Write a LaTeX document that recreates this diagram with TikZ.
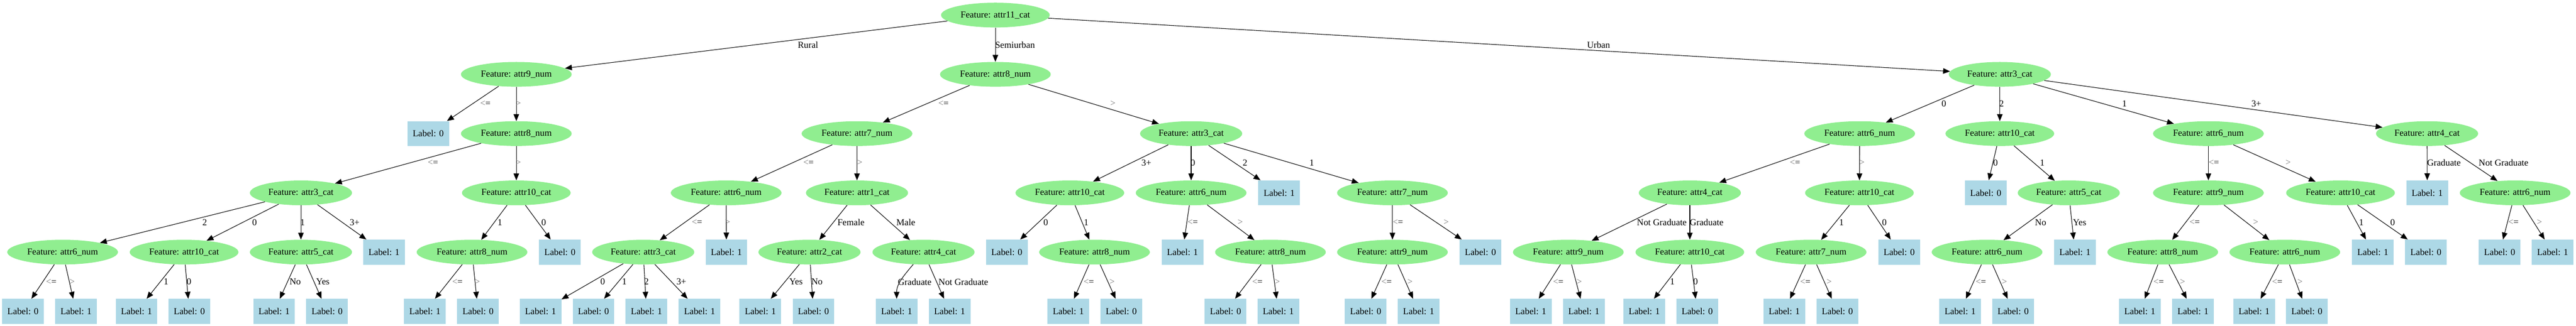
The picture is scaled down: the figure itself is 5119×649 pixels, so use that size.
\documentclass[tikz,border=0pt]{standalone}
\usepackage{fontspec}
\setmainfont{Liberation Serif}
\usetikzlibrary{arrows.meta,shapes.geometric}
\definecolor{lgreen}{RGB}{144,238,144}
\definecolor{lblue}{RGB}{173,216,230}
\newcommand\dtfont{\fontsize{13.2}{15}\selectfont}
\newcommand\myle{{\color{black!55}<}=}
\newcommand\mygt{{\color{black!55}>}}
\newcommand\dedge[5]{\draw[arr] (#1) -- (#2); \node[el] (#1-#2) at (#3,#4) {#5};}
\begin{document}
\begin{tikzpicture}[x=0.7246pt,y=-0.7246pt,
  every node/.style={font=\dtfont},
  fc/.style={ellipse,fill=lgreen,minimum width=147pt,minimum height=35.7pt,inner sep=0pt},
  fcc/.style={fc,minimum width=156.5pt},
  fn/.style={fc,minimum width=159.4pt},
  lf/.style={rectangle,fill=lblue,minimum width=60pt,minimum height=36pt,inner sep=0pt},
  arr/.style={-{Triangle[length=10pt,width=8pt]},line width=0.8pt},
  el/.style={inner sep=0pt}]
\useasboundingbox (0,0) rectangle (5119,649);
% level 0
\node[fcc] (R) at (1978,30) {Feature: attr11\_cat};
% level 1
\node[fn] (a) at (1026,148) {Feature: attr9\_num};
\node[fn] (b) at (1978,148) {Feature: attr8\_num};
\node[fc] (c) at (3974,148) {Feature: attr3\_cat};
% level 2
\node[lf] (a1) at (851,266) {Label: 0};
\node[fn] (a2) at (1026,266) {Feature: attr8\_num};
\node[fn] (b1) at (1703,266) {Feature: attr7\_num};
\node[fc] (b2) at (2367,266) {Feature: attr3\_cat};
\node[fn] (c1) at (3695.5,266) {Feature: attr6\_num};
\node[fcc] (c2) at (3974,266) {Feature: attr10\_cat};
\node[fn] (c3) at (4388.5,266) {Feature: attr6\_num};
\node[fc] (c4) at (4823,266) {Feature: attr4\_cat};
% level 3
\node[fc] (a21) at (598,384) {Feature: attr3\_cat};
\node[fcc] (a22) at (1026,384) {Feature: attr10\_cat};
\node[fn] (b11) at (1443,384) {Feature: attr6\_num};
\node[fc] (b12) at (1703,384) {Feature: attr1\_cat};
\node[fcc] (b21) at (2126,384) {Feature: attr10\_cat};
\node[fn] (b22) at (2367,384) {Feature: attr6\_num};
\node[lf] (b23) at (2542,384) {Label: 1};
\node[fn] (b24) at (2767,384) {Feature: attr7\_num};
\node[fc] (c11) at (3358,384) {Feature: attr4\_cat};
\node[fcc] (c12) at (3695,384) {Feature: attr10\_cat};
\node[lf] (c21) at (3946,384) {Label: 0};
\node[fc] (c22) at (4111,384) {Feature: attr5\_cat};
\node[fn] (c31) at (4388.5,384) {Feature: attr9\_num};
\node[fcc] (c32) at (4651,384) {Feature: attr10\_cat};
\node[lf] (c41) at (4823.4,384) {Label: 1};
\node[fn] (c42) at (4998,384) {Feature: attr6\_num};
% level 4
\node[fn] (a211) at (124.4,502) {Feature: attr6\_num};
\node[fcc] (a212) at (365.8,502) {Feature: attr10\_cat};
\node[fc] (a213) at (598,502) {Feature: attr5\_cat};
\node[lf] (a214) at (763.2,502) {Label: 1};
\node[fn] (a221) at (938,502) {Feature: attr8\_num};
\node[lf] (a222) at (1112.7,502) {Label: 0};
\node[fc] (b111) at (1278.2,502) {Feature: attr3\_cat};
\node[lf] (b112) at (1443.5,502) {Label: 1};
\node[fc] (b121) at (1608.6,502) {Feature: attr2\_cat};
\node[fc] (b122) at (1835.2,502) {Feature: attr4\_cat};
\node[lf] (b211) at (2000.7,502) {Label: 0};
\node[fn] (b212) at (2175,502) {Feature: attr8\_num};
\node[lf] (b221) at (2349.8,502) {Label: 1};
\node[fn] (b222) at (2524.6,502) {Feature: attr8\_num};
\node[fn] (b241) at (2767,502) {Feature: attr9\_num};
\node[lf] (b242) at (2941.9,502) {Label: 0};
\node[fn] (c111) at (3116.5,502) {Feature: attr9\_num};
\node[fcc] (c112) at (3358,502) {Feature: attr10\_cat};
\node[fn] (c121) at (3599,502) {Feature: attr7\_num};
\node[lf] (c122) at (3774,502) {Label: 0};
\node[fn] (c221) at (3948.6,502) {Feature: attr6\_num};
\node[lf] (c222) at (4123.4,502) {Label: 1};
\node[fn] (c311) at (4297.7,502) {Feature: attr8\_num};
\node[fn] (c312) at (4540.3,502) {Feature: attr6\_num};
\node[lf] (c321) at (4715.2,502) {Label: 1};
\node[lf] (c322) at (4820.7,502) {Label: 0};
\node[lf] (c421) at (4967.3,502) {Label: 0};
\node[lf] (c422) at (5072.5,502) {Label: 1};
% level 5
\node[lf] (a2111) at (45.7,620) {Label: 0};
\node[lf] (a2112) at (151.2,620) {Label: 1};
\node[lf] (a2121) at (271.3,620) {Label: 1};
\node[lf] (a2122) at (376.3,620) {Label: 0};
\node[lf] (a2131) at (544.7,620) {Label: 1};
\node[lf] (a2132) at (650,620) {Label: 0};
\node[lf] (a2211) at (844.5,620) {Label: 1};
\node[lf] (a2212) at (950,620) {Label: 0};
\node[lf] (b1111) at (1074.2,620) {Label: 1};
\node[lf] (b1112) at (1179.4,620) {Label: 0};
\node[lf] (b1113) at (1284.7,620) {Label: 1};
\node[lf] (b1114) at (1390.2,620) {Label: 1};
\node[lf] (b1211) at (1511,620) {Label: 1};
\node[lf] (b1212) at (1616.5,620) {Label: 0};
\node[lf] (b1221) at (1781.8,620) {Label: 1};
\node[lf] (b1222) at (1887,620) {Label: 1};
\node[lf] (b2121) at (2123,620) {Label: 1};
\node[lf] (b2122) at (2228.2,620) {Label: 0};
\node[lf] (b2221) at (2435.4,620) {Label: 0};
\node[lf] (b2222) at (2540.2,620) {Label: 1};
\node[lf] (b2411) at (2713.9,620) {Label: 0};
\node[lf] (b2412) at (2819.1,620) {Label: 1};
\node[lf] (c1111) at (3041.9,620) {Label: 1};
\node[lf] (c1112) at (3147.4,620) {Label: 1};
\node[lf] (c1121) at (3267.5,620) {Label: 1};
\node[lf] (c1122) at (3372.7,620) {Label: 0};
\node[lf] (c1211) at (3545.7,620) {Label: 1};
\node[lf] (c1212) at (3651.2,620) {Label: 0};
\node[lf] (c2211) at (3895.2,620) {Label: 1};
\node[lf] (c2212) at (4000.5,620) {Label: 0};
\node[lf] (c3111) at (4252.2,620) {Label: 1};
\node[lf] (c3112) at (4358,620) {Label: 1};
\node[lf] (c3121) at (4479.3,620) {Label: 1};
\node[lf] (c3122) at (4584.2,620) {Label: 0};
% edges level 0-1
\dedge{R}{a}{1605.7}{89}{Rural}
\dedge{R}{b}{2017}{89}{Semiurban}
\dedge{R}{c}{3176.6}{89}{Urban}
% edges level 1-2
\dedge{a}{a1}{964.6}{206}{\myle}
\dedge{a}{a2}{1030}{206}{\mygt}
\dedge{b}{b1}{1875}{206}{\myle}
\dedge{b}{b2}{2211.5}{206}{\mygt}
\dedge{c}{c1}{3862.7}{206}{0}
\dedge{c}{c2}{3977.5}{206}{2}
\dedge{c}{c3}{4221.6}{206}{1}
\dedge{c}{c4}{4483.7}{206}{3+}
% edges level 2-3
\dedge{a2}{a21}{860.3}{324}{\myle}
\dedge{a2}{a22}{1030}{324}{\mygt}
\dedge{b1}{b11}{1606.7}{324}{\myle}
\dedge{b1}{b12}{1708.6}{324}{\mygt}
\dedge{b2}{b21}{2278}{324}{3+}
\dedge{b2}{b22}{2370.3}{324}{0}
\dedge{b2}{b23}{2474}{324}{2}
\dedge{b2}{b24}{2606.7}{324}{1}
\dedge{c1}{c11}{3567}{324}{\myle}
\dedge{c1}{c12}{3700}{324}{\mygt}
\dedge{c2}{c21}{3965.5}{324}{0}
\dedge{c2}{c22}{4058.4}{324}{1}
\dedge{c3}{c31}{4399.3}{324}{\myle}
\dedge{c3}{c32}{4547}{324}{\mygt}
\dedge{c4}{c41}{4856.5}{324}{Graduate}
\dedge{c4}{c42}{4975}{324}{Not Graduate}
% edges level 3-4
\dedge{a21}{a211}{406.7}{443}{2}
\dedge{a21}{a212}{505.7}{443}{0}
\dedge{a21}{a213}{601.4}{443}{1}
\dedge{a21}{a214}{704.8}{443}{3+}
\dedge{a22}{a221}{993.3}{443}{1}
\dedge{a22}{a222}{1080.4}{443}{0}
\dedge{b11}{b111}{1385}{443}{\myle}
\dedge{b11}{b112}{1446}{443}{\mygt}
\dedge{b12}{b121}{1691}{443}{Female}
\dedge{b12}{b122}{1800}{443}{Male}
\dedge{b21}{b211}{2078}{443}{0}
\dedge{b21}{b212}{2158.4}{443}{1}
\dedge{b22}{b221}{2370.3}{443}{\myle}
\dedge{b22}{b222}{2464.6}{443}{\mygt}
\dedge{b24}{b241}{2778}{443}{\myle}
\dedge{b24}{b242}{2874}{443}{\mygt}
\dedge{c11}{c111}{3302.4}{443}{Not Graduate}
\dedge{c11}{c112}{3391.4}{443}{Graduate}
\dedge{c12}{c121}{3659.3}{443}{1}
\dedge{c12}{c122}{3744.5}{443}{0}
\dedge{c22}{c221}{4055}{443}{No}
\dedge{c22}{c222}{4132.5}{443}{Yes}
\dedge{c31}{c311}{4361.2}{443}{\myle}
\dedge{c31}{c312}{4482.5}{443}{\mygt}
\dedge{c32}{c321}{4692.4}{443}{1}
\dedge{c32}{c322}{4754.5}{443}{0}
\dedge{c42}{c421}{4994.8}{443}{\myle}
\dedge{c42}{c422}{5046.4}{443}{\mygt}
% edges level 4-5
\dedge{a211}{a2111}{101.9}{561}{\myle}
\dedge{a211}{a2112}{143.5}{561}{\mygt}
\dedge{a212}{a2121}{330}{561}{1}
\dedge{a212}{a2122}{375.6}{561}{0}
\dedge{a213}{a2131}{586.6}{561}{No}
\dedge{a213}{a2132}{641.6}{561}{Yes}
\dedge{a221}{a2211}{909}{561}{\myle}
\dedge{a221}{a2212}{948.8}{561}{\mygt}
\dedge{b111}{b1111}{1197.6}{561}{0}
\dedge{b111}{b1112}{1240.7}{561}{1}
\dedge{b111}{b1113}{1284.7}{561}{2}
\dedge{b111}{b1114}{1354}{561}{3+}
\dedge{b121}{b1211}{1581.8}{561}{Yes}
\dedge{b121}{b1212}{1623.4}{561}{No}
\draw[arr] (b122) to[out=-130,in=90] (b1221);
\node[el] (b122-b1221) at (1817.7,561) {Graduate};
\dedge{b122}{b1222}{1914.4}{561}{Not Graduate}
\dedge{b212}{b2121}{2163.6}{561}{\myle}
\dedge{b212}{b2122}{2210}{561}{\mygt}
\dedge{b222}{b2221}{2498.6}{561}{\myle}
\dedge{b222}{b2222}{2538.3}{561}{\mygt}
\dedge{b241}{b2411}{2755.5}{561}{\myle}
\dedge{b241}{b2412}{2802}{561}{\mygt}
\dedge{c111}{c1111}{3096.6}{561}{\myle}
\dedge{c111}{c1112}{3138.3}{561}{\mygt}
\dedge{c112}{c1121}{3323.4}{561}{1}
\dedge{c112}{c1122}{3369.4}{561}{0}
\dedge{c121}{c1211}{3587.6}{561}{\myle}
\dedge{c121}{c1212}{3634.9}{561}{\mygt}
\dedge{c221}{c2211}{3936.4}{561}{\myle}
\dedge{c221}{c2212}{3983.3}{561}{\mygt}
\dedge{c311}{c3111}{4289.7}{561}{\myle}
\dedge{c311}{c3112}{4337.2}{561}{\mygt}
\dedge{c312}{c3121}{4525.3}{561}{\myle}
\dedge{c312}{c3122}{4570.5}{561}{\mygt}
\end{tikzpicture}
\end{document}
